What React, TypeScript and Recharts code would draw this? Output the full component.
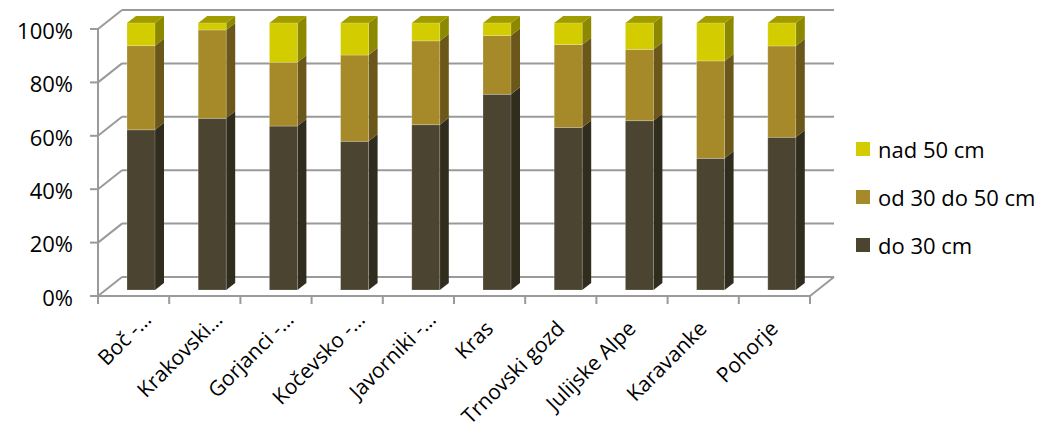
import React from "react"
import { BarChart, Bar, XAxis, YAxis, CartesianGrid } from "recharts"

const categories = [
  "Boč -…",
  "Krakovski…",
  "Gorjanci -…",
  "Kočevsko -…",
  "Javorniki -…",
  "Kras",
  "Trnovski gozd",
  "Julijske Alpe",
  "Karavanke",
  "Pohorje"
]
const do30 = [60, 64.3, 61.4, 55.7, 61.9, 73.3, 60.9, 63.4, 49.3, 57.2]
const od30do50 = [31.5, 33.1, 23.9, 32.3, 31.4, 22, 31, 26.7, 36.5, 34.2]
const nad50 = [8.5, 2.6, 14.7, 12, 6.7, 4.7, 8.1, 9.9, 14.2, 8.6]
const yTicks = [0, 0.2, 0.4, 0.6, 0.8, 1]

const data = categories.map((name, i) => ({
  name,
  do30: do30[i],
  od: od30do50[i],
  nad: nad50[i]
}))

const series = [
  { key: "nad", label: "nad 50 cm", front: "#D2CC00" },
  { key: "od", label: "od 30 do 50 cm", front: "#A68A2A" },
  { key: "do30", label: "do 30 cm", front: "#4B4430" }
]

const FONT = "'Open Sans', sans-serif"
const TOP = 23
const BOTTOM = 290
const LEFT = 105
const RIGHT = 817
// depth offsets: bar plane -> front edge, bar plane -> back wall
const FX = -7
const FY = 6
const BX = 17
const BY = -13
const GRID = "#9a9a9a"

const bar3d = (front: string, side: string, top: string, showTop: boolean) => (props: any) => {
  const { x, y, width, height } = props
  if (height == null || width == null) return null
  const dx = 9
  const dy = 7
  return (
    <g>
      <polygon
        points={`${x + width},${y} ${x + width + dx},${y - dy} ${x + width + dx},${y + height - dy} ${x + width},${y + height}`}
        fill={side}
      />
      {showTop && (
        <polygon
          points={`${x},${y} ${x + dx},${y - dy} ${x + width + dx},${y - dy} ${x + width},${y}`}
          fill={top}
        />
      )}
      <rect x={x} y={y} width={width} height={height} fill={front} stroke="rgba(255,255,255,0.25)" strokeWidth={0.8} />
    </g>
  )
}

const gridLine = (props: any) => {
  const { y1 } = props
  const fx = LEFT + FX
  const fy = y1 + FY
  const isFloor = Math.abs(y1 - BOTTOM) < 1
  return (
    <g key={`g-${y1}`}>
      <line x1={LEFT + BX} y1={y1 + BY} x2={RIGHT + BX} y2={y1 + BY} stroke={GRID} strokeWidth={2} />
      <line x1={fx} y1={fy} x2={LEFT + BX} y2={y1 + BY} stroke={GRID} strokeWidth={2} />
      <line x1={fx - 8} y1={fy} x2={fx} y2={fy} stroke={GRID} strokeWidth={2} />
      {isFloor && (
        <g>
          <line x1={fx} y1={TOP + FY} x2={fx} y2={fy} stroke={GRID} strokeWidth={2} />
          <line x1={fx} y1={fy} x2={RIGHT + FX} y2={fy} stroke={GRID} strokeWidth={2} />
          <line x1={RIGHT + FX} y1={fy} x2={RIGHT + BX} y2={y1 + BY} stroke={GRID} strokeWidth={2} />
        </g>
      )}
    </g>
  )
}

const YTick = (props: any) => {
  const { y, payload } = props
  return (
    <text x={73} y={y + FY + 2} dy="0.35em" textAnchor="end" fill="#000" fontSize={22} fontFamily={FONT}>
      {`${Math.round(payload.value * 100)}%`}
    </text>
  )
}

const XTick = (props: any) => {
  const { x, payload, index } = props
  const band = (RIGHT - LEFT) / categories.length
  const cx = x + FX
  const floor = BOTTOM + FY
  const cut = String(payload.value).endsWith("…")
  const ax = cx + (cut ? 19 : 5)
  const ay = cut ? 321 : 330
  return (
    <g>
      <line x1={cx - band / 2} y1={floor} x2={cx - band / 2} y2={floor + 8} stroke={GRID} strokeWidth={2} />
      {index === categories.length - 1 && (
        <line x1={cx + band / 2} y1={floor} x2={cx + band / 2} y2={floor + 8} stroke={GRID} strokeWidth={2} />
      )}
      <text
        x={ax}
        y={ay}
        textAnchor="end"
        transform={`rotate(-45, ${ax}, ${ay})`}
        fill="#000"
        fontSize={21}
        fontFamily={FONT}
      >
        {payload.value}
      </text>
    </g>
  )
}

export default function App() {
  return (
    <div style={{ position: "relative", width: 1046, height: 432, background: "#fff" }}>
      <style>{"body{margin:0}"}</style>
      <BarChart
        width={1046}
        height={432}
        data={data}
        stackOffset="expand"
        barSize={28}
        margin={{ top: TOP, right: 1046 - RIGHT, bottom: 0, left: 0 }}
      >
        <CartesianGrid vertical={false} horizontal={gridLine} />
        <XAxis
          dataKey="name"
          height={432 - BOTTOM}
          axisLine={false}
          tickLine={false}
          interval={0}
          tick={<XTick />}
        />
        <YAxis
          width={LEFT}
          domain={[0, 1]}
          ticks={yTicks}
          axisLine={false}
          tickLine={false}
          tick={<YTick />}
        />
        <Bar dataKey="do30" stackId="a" isAnimationActive={false} shape={bar3d("#4B4430", "#302D1E", "#3c3626", false)} />
        <Bar dataKey="od" stackId="a" isAnimationActive={false} shape={bar3d("#A68A2A", "#6B5719", "#8a7222", false)} />
        <Bar dataKey="nad" stackId="a" isAnimationActive={false} shape={bar3d("#D2CC00", "#8C8800", "#A09C00", true)} />
      </BarChart>
      <div style={{ position: "absolute", left: 856, top: 125, fontFamily: FONT, fontSize: 22, color: "#000" }}>
        {series.map((s) => (
          <div key={s.key} style={{ display: "flex", alignItems: "center", height: 48 }}>
            <div style={{ width: 14, height: 14, background: s.front, marginRight: 8 }} />
            <span>{s.label}</span>
          </div>
        ))}
      </div>
    </div>
  )
}
